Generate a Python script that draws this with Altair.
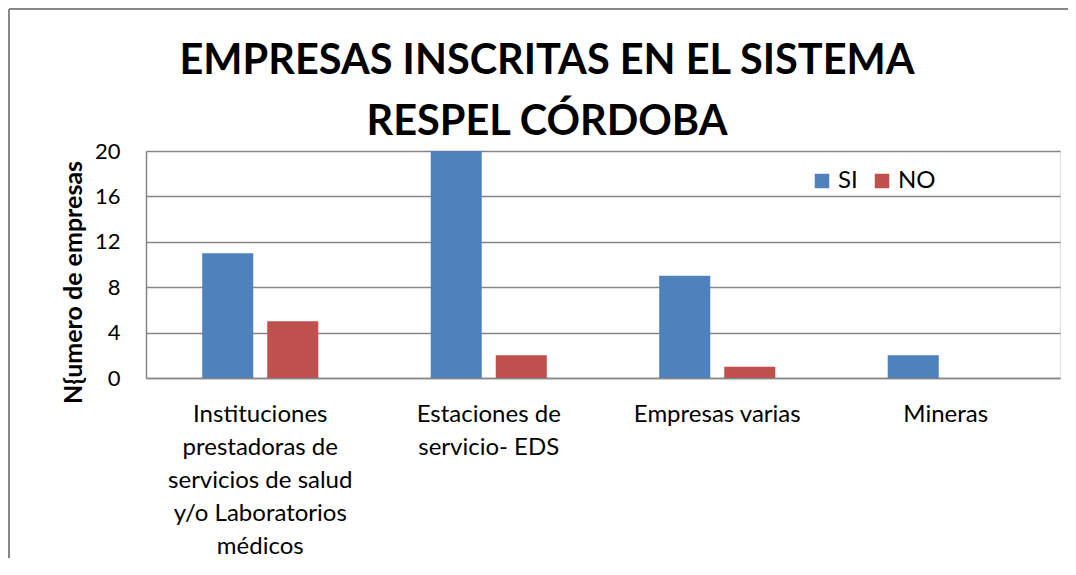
import altair as alt
import pandas as pd

# --- data ---
categories = [
    "Instituciones\nprestadoras de\nservicios de salud\ny/o Laboratorios\nmédicos",
    "Estaciones de\nservicio- EDS",
    "Empresas varias",
    "Mineras",
]
series = ["SI", "NO"]
si_values = [11, 20, 9, 2]
no_values = [5, 2, 1, 0]
y_ticks = [0, 4, 8, 12, 16, 20]
title_lines = ["EMPRESAS INSCRITAS EN EL SISTEMA", "RESPEL CÓRDOBA"]
y_title = "N{umero de empresas"
colors = ["#4F81BD", "#C0504D"]

rows = []
for c, s, n in zip(categories, si_values, no_values):
    rows.append({"cat": c, "serie": "SI", "val": s})
    rows.append({"cat": c, "serie": "NO", "val": n})
df = pd.DataFrame(rows)

FONT = "Lato"

bars = alt.Chart(df).mark_bar().encode(
    x=alt.X(
        "cat:N",
        sort=categories,
        scale=alt.Scale(paddingInner=0.492, paddingOuter=0.246),
        axis=alt.Axis(
            title=None,
            labelAngle=0,
            labelExpr="split(datum.label, '\\n')",
            labelFont=FONT,
            labelFontSize=24,
            labelColor="#000000",
            labelLineHeight=33,
            labelPadding=24,
            labelLimit=400,
            labelBaseline="top",
            ticks=False,
            domainColor="#868686",
            domainWidth=1.5,
            grid=False,
        ),
    ),
    xOffset=alt.XOffset(
        "serie:N", sort=series, scale=alt.Scale(paddingInner=0.215, paddingOuter=0)
    ),
    y=alt.Y(
        "val:Q",
        scale=alt.Scale(domain=[0, 20], nice=False),
        axis=alt.Axis(
            title=y_title,
            values=y_ticks,
            titleFont=FONT,
            titleFontSize=25,
            titleFontWeight="bold",
            titleColor="#000000",
            titleAngle=270,
            titleX=-73,
            titleY=131,
            titleAlign="center",
            titleBaseline="middle",
            labelFont=FONT,
            labelFontSize=22,
            labelColor="#000000",
            labelPadding=26,
            ticks=False,
            domainColor="#868686",
            domainWidth=1.5,
            gridColor="#868686",
            gridWidth=1.5,
        ),
    ),
    color=alt.Color(
        "serie:N",
        sort=series,
        scale=alt.Scale(domain=series, range=colors),
        legend=alt.Legend(
            title=None,
            orient="none",
            legendX=664,
            legendY=18,
            direction="horizontal",
            symbolType="square",
            symbolSize=210,
            symbolStrokeWidth=0,
            labelFont=FONT,
            labelFontSize=24,
            labelColor="#000000",
            labelOffset=4,
            columnPadding=12,
            padding=0,
        ),
    ),
)

frame_left = alt.Chart(df).mark_rule(color="#888888", strokeWidth=1.5).encode(
    x=alt.value(-137), y=alt.value(-142), y2=alt.value(430)
)
frame_top = alt.Chart(df).mark_rule(color="#888888", strokeWidth=1.5).encode(
    x=alt.value(-137), x2=alt.value(1000), y=alt.value(-142)
)

chart = (
    alt.layer(frame_left, frame_top, bars)
    .properties(
        width=914,
        height=227,
        autosize=alt.AutoSizeParams(type="none"),
        padding={"left": 138, "top": 143, "right": 8, "bottom": 180},
        title=alt.TitleParams(
            text=title_lines,
            font=FONT,
            fontSize=41.5,
            fontWeight="bold",
            color="#000000",
            anchor="middle",
            frame="group",
            baseline="top",
            dx=-56,
            lineHeight=61,
            offset=-135,
        ),
    )
    .configure_view(stroke=None)
    .configure(background="white")
)

chart.save("out.html", embed_options={"renderer": "svg", "actions": False})
